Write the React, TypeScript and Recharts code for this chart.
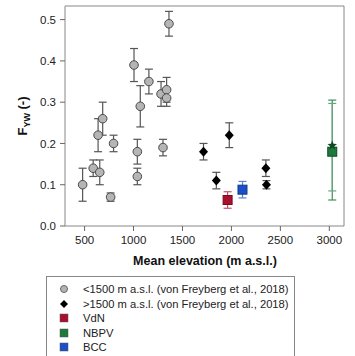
import React from 'react';
import { ScatterChart, Scatter, XAxis, YAxis, ErrorBar, ReferenceArea } from 'recharts';

// catchments below 1500 m (von Freyberg et al., 2018)
const lowElev = [480, 588, 655, 638, 685, 796, 766, 1005, 1157, 1069, 1039, 1039, 1301, 1281, 1338, 1338, 1362];
const lowFyw = [0.10, 0.14, 0.13, 0.22, 0.26, 0.20, 0.07, 0.39, 0.35, 0.29, 0.18, 0.12, 0.19, 0.32, 0.33, 0.31, 0.49];
const lowErr = [0.04, 0.02, 0.03, 0.04, 0.04, 0.02, 0.01, 0.04, 0.03, 0.05, 0.03, 0.02, 0.02, 0.03, 0.03, 0.02, 0.03];

// catchments above 1500 m
const highElev = [1715, 1978, 1846, 2352, 2358];
const highFyw = [0.18, 0.22, 0.11, 0.14, 0.10];
const highErr = [0.02, 0.03, 0.02, 0.02, 0.01];

// study sites
const vdnElev = [1961];
const vdnFyw = [0.063];
const vdnErr = [0.02];
const bccElev = [2113];
const bccFyw = [0.088];
const bccErr = [0.02];
const nbpvElev = [3030];
const nbpvFyw = [0.18];
const nbpvErr: [number, number][] = [[0.117, 0.125]];
const nbpvAltFyw = [0.195];
const nbpvAltErr: [number, number][] = [[0.11, 0.102]];

const xTicks = [500, 1000, 1500, 2000, 2500, 3000];
const yTicks = [0, 0.1, 0.2, 0.3, 0.4, 0.5];

const build = (xs: number[], ys: number[], es: any[]) => xs.map((x, i) => ({ x, y: ys[i], err: es[i] }));

const lowData = build(lowElev, lowFyw, lowErr);
const highData = build(highElev, highFyw, highErr);
const vdnData = build(vdnElev, vdnFyw, vdnErr);
const bccData = build(bccElev, bccFyw, bccErr);
const nbpvData = build(nbpvElev, nbpvFyw, nbpvErr);
const nbpvAltData = build(nbpvElev, nbpvAltFyw, nbpvAltErr);

const font = '"Liberation Sans", Arial, sans-serif';

const GrayDot = (p: any) => <circle cx={p.cx} cy={p.cy} r={4.3} fill="#b5b5b5" stroke="#4a4a4a" strokeWidth={1} />;
const Diamond = (p: any) => (
  <polygon points={`${p.cx},${p.cy - 5} ${p.cx + 4.5},${p.cy} ${p.cx},${p.cy + 5} ${p.cx - 4.5},${p.cy}`} fill="#000" />
);
const square = (fill: string, stroke: string) => (p: any) => (
  <rect x={p.cx - 4.5} y={p.cy - 4.5} width={9} height={9} fill={fill} stroke={stroke} strokeWidth={1} />
);
const Star = (p: any) => {
  const pts: string[] = [];
  for (let i = 0; i < 10; i++) {
    const r = i % 2 === 0 ? 5 : 2.2;
    const a = -Math.PI / 2 + (i * Math.PI) / 5;
    pts.push(`${p.cx + r * Math.cos(a)},${p.cy + r * Math.sin(a)}`);
  }
  return <polygon points={pts.join(' ')} fill="#0f4a22" />;
};

const YLabel = () => (
  <text transform="translate(27,116) rotate(-90)" textAnchor="middle" fontFamily={font} fontWeight="bold" fontSize={13} fill="#111">
    F<tspan dy={3} fontSize={9}>YW</tspan><tspan dy={-3}> (-)</tspan>
  </text>
);
const XLabel = () => (
  <text x={205} y={265} textAnchor="middle" fontFamily={font} fontWeight="bold" fontSize={12.5} fill="#111">
    Mean elevation (m a.s.l.)
  </text>
);

const legendItems = [
  { label: '<1500 m a.s.l. (von Freyberg et al., 2018)', kind: 'circle', color: '#b5b5b5' },
  { label: '>1500 m a.s.l. (von Freyberg et al., 2018)', kind: 'diamond', color: '#000' },
  { label: 'VdN', kind: 'square', color: '#a8102e' },
  { label: 'NBPV', kind: 'square', color: '#1e7a3c' },
  { label: 'BCC', kind: 'square', color: '#1a4fc8' },
];

const App: React.FC = () => {
  return (
    <div style={{ position: 'absolute', left: 0, top: 0, width: 355, height: 356, overflow: 'hidden', background: '#fff' }}>
      <ScatterChart width={355} height={356} margin={{ top: 6, right: 11, left: 5, bottom: 100 }}>
        <XAxis
          type="number"
          dataKey="x"
          domain={[300, 3150]}
          ticks={xTicks}
          axisLine={false}
          tickSize={5}
          tickMargin={5}
          height={30}
          tickLine={{ stroke: '#666' }}
          tick={{ fill: '#222', fontSize: 11.5, fontFamily: font }}
          label={{ content: () => <XLabel /> }}
        />
        <YAxis
          type="number"
          dataKey="y"
          domain={[0, 0.533]}
          ticks={yTicks}
          width={60}
          axisLine={false}
          tickSize={5}
          tickMargin={4}
          tickLine={{ stroke: '#666' }}
          tickFormatter={(v: number) => v.toFixed(1)}
          tick={{ fill: '#222', fontSize: 11.5, fontFamily: font }}
          label={{ content: () => <YLabel /> }}
        />
        <ReferenceArea x1={300} x2={3150} y1={0} y2={0.533} fill="none" stroke="#888" strokeWidth={1} ifOverflow="visible" />
        <Scatter data={lowData} shape={GrayDot} isAnimationActive={false}>
          <ErrorBar dataKey="err" direction="y" width={4} stroke="#555" strokeWidth={1.2} />
        </Scatter>
        <Scatter data={highData} shape={Diamond} isAnimationActive={false}>
          <ErrorBar dataKey="err" direction="y" width={4} stroke="#555" strokeWidth={1.2} />
        </Scatter>
        <Scatter data={vdnData} shape={square('#a8102e', '#7a0a20')} isAnimationActive={false}>
          <ErrorBar dataKey="err" direction="y" width={4} stroke="#c8506a" strokeWidth={1.2} />
        </Scatter>
        <Scatter data={bccData} shape={square('#1a4fc8', '#12388f')} isAnimationActive={false}>
          <ErrorBar dataKey="err" direction="y" width={4} stroke="#5a7fd0" strokeWidth={1.2} />
        </Scatter>
        <Scatter data={nbpvData} shape={square('#1e7a3c', '#0f4a22')} isAnimationActive={false}>
          <ErrorBar dataKey="err" direction="y" width={4} stroke="#3d8f5a" strokeWidth={1.2} />
        </Scatter>
        <Scatter data={nbpvAltData} shape={Star} isAnimationActive={false}>
          <ErrorBar dataKey="err" direction="y" width={4} stroke="#6aa57f" strokeWidth={1.2} />
        </Scatter>
      </ScatterChart>
      <div
        style={{
          position: 'absolute', left: 46, top: 276, width: 247, height: 100,
          border: '1px solid #888', fontFamily: font, fontSize: 11.2, color: '#222',
        }}
      >
        {legendItems.map((it, i) => (
          <div key={i} style={{ position: 'absolute', left: 0, top: 5 + i * 14.5, height: 14, display: 'flex', alignItems: 'center', whiteSpace: 'nowrap' }}>
            <svg width={36} height={14} style={{ display: 'block' }}>
              {it.kind === 'circle' && <circle cx={17} cy={7} r={3.5} fill={it.color} stroke="#666" />}
              {it.kind === 'diamond' && <polygon points="17,3 21,7 17,11 13,7" fill="#000" />}
              {it.kind === 'square' && <rect x={13} y={3} width={8} height={8} fill={it.color} stroke="#555" strokeWidth={0.5} />}
            </svg>
            <span>{it.label}</span>
          </div>
        ))}
      </div>
    </div>
  );
};

export default App;
